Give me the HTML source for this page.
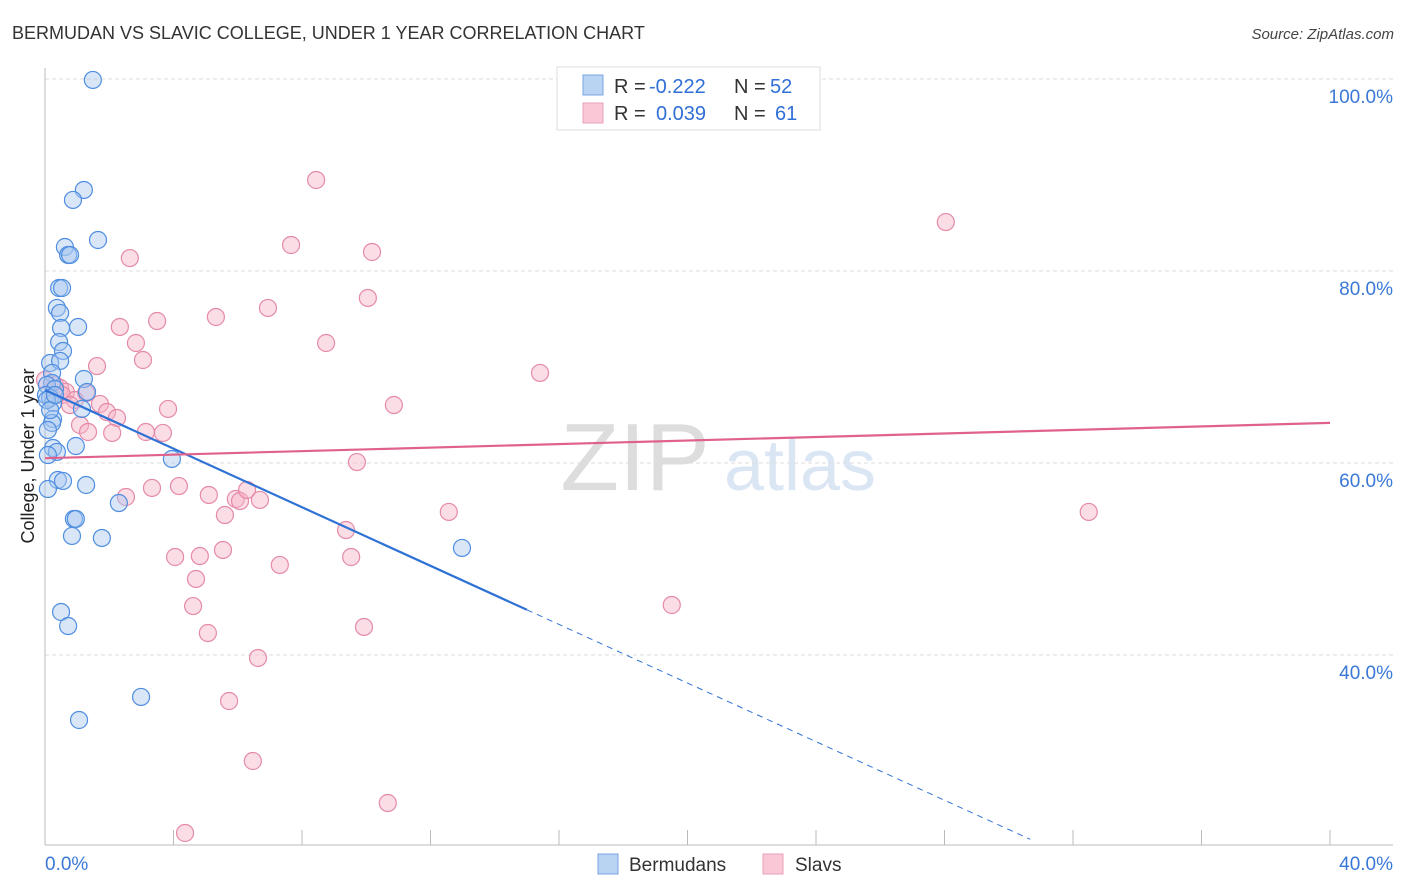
<!DOCTYPE html>
<html><head><meta charset="utf-8"><style>
html,body{margin:0;background:#fff;font-family:"Liberation Sans",sans-serif;overflow:hidden;width:1406px;height:892px;}
svg{display:block;}
svg text{font-family:"Liberation Sans",sans-serif;}
</style></head><body>
<svg id="chart" width="1406" height="892" viewBox="0 0 1406 892" xmlns="http://www.w3.org/2000/svg" overflow="hidden">
<text x="12" y="39" font-size="18" fill="#333">BERMUDAN VS SLAVIC COLLEGE, UNDER 1 YEAR CORRELATION CHART</text>
<text x="1394" y="39" font-size="15" fill="#444" text-anchor="end" font-style="italic">Source: ZipAtlas.com</text>
<text transform="translate(34,456) rotate(-90)" font-size="18" fill="#222" text-anchor="middle">College, Under 1 year</text>
<g><text x="635" y="490" font-size="96" fill="#ddd" font-family="Liberation Serif" text-anchor="middle">ZIP</text><text x="800" y="490" font-size="72" fill="#dbe6f5" text-anchor="middle">atlas</text></g>
<g id="grid"></g><g id="marks"></g>
<g>
<rect x="557" y="67" width="263" height="63" fill="#fff" stroke="#ddd"/>
<rect x="583" y="75" width="20" height="20" fill="#b9d3f3" stroke="#7aa6e0"/>
<rect x="583" y="103" width="20" height="20" fill="#f9c7d6" stroke="#eaa0b8"/>
<text x="614" y="93" font-size="20" fill="#333">R =</text>
<text x="649" y="93" font-size="20" fill="#2f6fd6">-0.222</text>
<text x="734" y="93" font-size="20" fill="#333">N =</text>
<text x="770" y="93" font-size="20" fill="#2f6fd6">52</text>
<text x="614" y="120" font-size="20" fill="#333">R =</text>
<text x="656" y="120" font-size="20" fill="#2f6fd6">0.039</text>
<text x="734" y="120" font-size="20" fill="#333">N =</text>
<text x="775" y="120" font-size="20" fill="#2f6fd6">61</text>
</g>
<g>
<rect x="598" y="854" width="20" height="20" fill="#b9d3f3" stroke="#7aa6e0"/><text x="629" y="871" font-size="19" fill="#333">Bermudans</text>
<rect x="763" y="854" width="20" height="20" fill="#f9c7d6" stroke="#eaa0b8"/><text x="795" y="871" font-size="19" fill="#333">Slavs</text>
</g>
</svg>
<script>
const yTicks=[40,60,80,100];
const yTickLabels=["40.0%","60.0%","80.0%","100.0%"];
const xTickLabels=["0.0%","40.0%"];
const bermX=[1.49,1.21,0.87,1.65,0.62,0.72,0.78,0.44,0.53,0.37,0.47,0.5,1.03,0.44,0.56,0.16,0.47,0.22,1.21,0.22,0.06,0.31,1.31,0.03,0.16,0.25,1.15,0.25,0.22,0.09,0.96,0.25,0.37,0.09,3.95,0.40,0.56,1.28,0.09,2.30,0.90,0.96,0.84,1.77,12.98,0.50,0.72,2.99,1.06,0.06,0.16,0.31];
const bermY=[99.9,88.44,87.4,83.23,82.5,81.67,81.67,78.23,78.23,76.15,75.63,74.06,74.17,72.6,71.67,70.42,70.63,69.38,68.75,68.33,68.13,67.71,67.4,67.08,66.77,66.25,65.63,64.58,64.17,63.44,61.77,61.56,61.15,60.83,60.42,58.23,58.13,57.71,57.29,55.83,54.17,54.17,52.4,52.19,51.15,44.48,43.02,35.63,33.23,66.56,65.52,67.08];
const slavX=[8.44,28.04,7.66,10.18,2.64,10.05,6.94,5.32,3.49,2.33,2.83,8.75,3.05,1.62,15.41,0.31,0.47,0.65,1.28,0.53,0.93,1.71,0.78,1.93,2.24,10.86,3.83,1.09,1.34,2.09,3.14,3.67,9.71,2.52,3.33,4.17,5.10,5.94,6.07,6.29,6.69,12.57,32.49,5.60,9.37,4.05,4.82,5.54,9.53,7.31,4.70,4.61,19.51,5.07,9.93,6.63,5.73,6.47,10.67,4.36,0.0];
const slavY=[89.48,85.1,82.71,81.98,81.35,77.19,76.15,75.21,74.79,74.17,72.5,72.5,70.73,70.1,69.38,68.13,67.81,67.4,67.29,67.08,66.56,66.15,66.04,65.31,64.69,66.04,65.63,63.96,63.23,63.13,63.23,63.13,60.1,56.46,57.4,57.6,56.67,56.25,56.04,57.19,56.15,54.9,54.9,54.58,53.02,50.21,50.31,50.94,50.21,49.38,47.92,45.1,45.21,42.29,42.92,39.69,35.21,28.96,24.58,21.46,68.65];
const bermTrend=[67.6,-1.526];
const slavTrend=[60.5,0.092];
const X0=45,X1=1330,Y100=79,PX=9.6;
const sx=v=>X0+(X1-X0)*v/40;
const sy=v=>Y100+(100-v)*PX;
const NS="http://www.w3.org/2000/svg";
function mk(tag,attrs,parent){const e=document.createElementNS(NS,tag);for(const k in attrs)e.setAttribute(k,attrs[k]);parent.appendChild(e);return e;}
const grid=document.getElementById('grid'),marks=document.getElementById('marks');
yTicks.forEach((t,i)=>{
  const g=mk('line',{x1:X0,x2:1393,y1:sy(t),y2:sy(t),stroke:'#ddd','stroke-dasharray':'4,3'},grid);
  
  
  const l=mk('text',{x:1393,y:sy(t)+24,'font-size':19,fill:'#3a78d8','text-anchor':'end'},grid);
  l.textContent=yTickLabels[i];
  
  
});
const ax=mk('line',{x1:X0,x2:1393,y1:845,y2:845,stroke:'#bbb'},grid);


const ay=mk('line',{x1:X0,x2:X0,y1:68,y2:845,stroke:'#bbb'},grid);


for(let i=0;i<=10;i++){const t=mk('line',{x1:sx(i*4),x2:sx(i*4),y1:830,y2:845,stroke:'#bbb'},grid);
  
  }
[[0,'start',45],[40,'end',1393]].forEach((d,i)=>{const l=mk('text',{x:d[2],y:870,'font-size':19,fill:'#3a78d8','text-anchor':d[1]},grid);l.textContent=xTickLabels[i];
  
  });
function dots(xs,ys,fill,stroke,name){xs.forEach((x,i)=>{const c=mk('circle',{cx:sx(x),cy:sy(ys[i]),r:8.5,fill:fill,'fill-opacity':0.45,stroke:stroke,'stroke-width':1.2},marks);
  
  });}
dots(slavX,slavY,'#f6b3c8','#e58aa8','slav-point');
dots(bermX,bermY,'#a9c8f0','#4f8ee0','bermudan-point');
const bl=bermTrend, pl=slavTrend;
const xEnd=(20.8-bl[0])/bl[1];
let e=mk('line',{x1:sx(0),y1:sy(bl[0]),x2:sx(15),y2:sy(bl[0]+bl[1]*15),stroke:'#2f72d6','stroke-width':2.2},marks);


e=mk('line',{x1:sx(15),y1:sy(bl[0]+bl[1]*15),x2:sx(xEnd),y2:sy(bl[0]+bl[1]*xEnd),stroke:'#2f72d6','stroke-width':1,'stroke-dasharray':'6,5'},marks);


e=mk('line',{x1:sx(0),y1:sy(pl[0]),x2:sx(40),y2:sy(pl[0]+pl[1]*40),stroke:'#e0628c','stroke-width':2.2},marks);


</script>
</body></html>
